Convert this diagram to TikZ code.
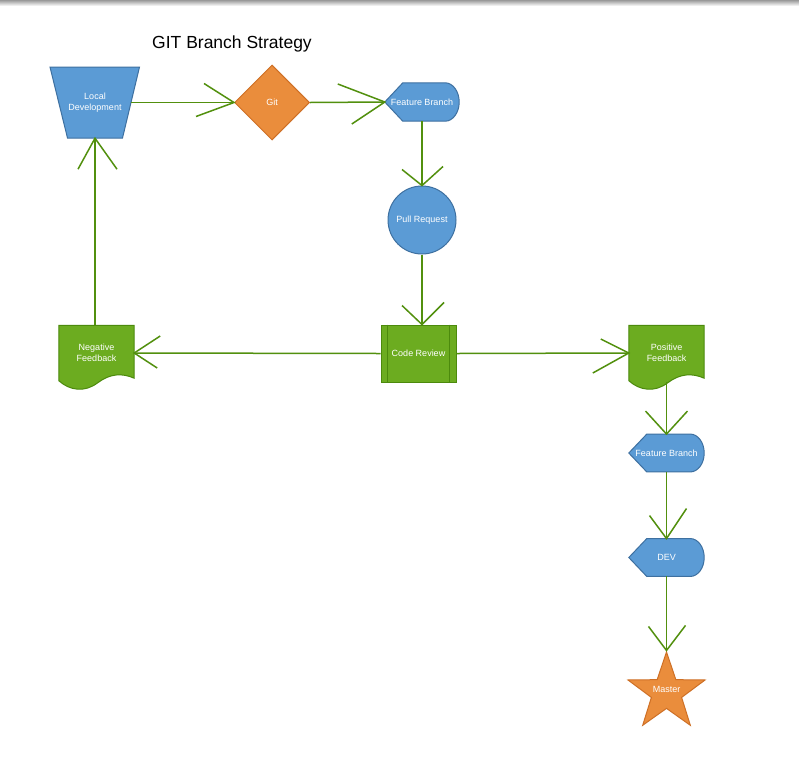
\documentclass[tikz,border=0pt]{standalone}
\usepackage{fontspec}
\setmainfont{Liberation Sans}
\usetikzlibrary{calc,shapes.geometric,backgrounds}

\definecolor{bluefill}{RGB}{91,155,213}
\definecolor{blueline}{RGB}{62,112,160}
\definecolor{orangefill}{RGB}{234,141,60}
\definecolor{orangeline}{RGB}{206,112,38}
\definecolor{greenfill}{RGB}{108,172,32}
\definecolor{greenline}{RGB}{76,138,12}
\definecolor{flow}{RGB}{82,144,14}

\tikzset{
  lbl/.style={text=white, font=\fontsize{9}{11}\selectfont, align=center, inner sep=0pt},
  frame/.style={lbl, rectangle, draw=none},
  blueshape/.style={fill=bluefill, draw=blueline, line width=1pt},
  orangeshape/.style={fill=orangefill, draw=orangeline, line width=1pt},
  greenshape/.style={fill=greenfill, draw=greenline, line width=1pt},
  conn/.style={draw=flow, line width=1.5pt},
}

% display shape: pointed left end, rounded right end
\newcommand\displayoutline[1]{%
  \path[blueshape] (#1.west) -- ($(#1.north west)+(18,0)$)
    -- ($(#1.north east)+(-14,0)$)
    .. controls ($(#1.north east)+(-6.3,0)$) and ($(#1.east)+(0,-10.5)$) .. (#1.east)
    .. controls ($(#1.east)+(0,10.5)$) and ($(#1.south east)+(-6.3,0)$) .. ($(#1.south east)+(-14,0)$)
    -- ($(#1.south west)+(18,0)$) -- cycle;}

% document shape: flat top, wavy bottom
\newcommand\documentoutline[1]{%
  \path[greenshape] (#1.south west) -- (#1.north west) -- (#1.north east)
    -- ($(#1.south east)+(0,-2.5)$)
    .. controls ($(#1.south west)+(63,-8)$) and ($(#1.south west)+(51,-7)$) .. ($(#1.south west)+(39,2)$)
    .. controls ($(#1.south west)+(26,12)$) and ($(#1.south west)+(11,10)$) .. (#1.south west) -- cycle;}

% open arrow head as two barbs meeting at a tip
\newcommand\barbs[3]{%
  \draw[conn] ($(#1)+(#2)$) -- (#1) -- ($(#1)+(#3)$);}

\begin{document}
\begin{tikzpicture}[x=1pt,y=-1pt]
\useasboundingbox (0,0) rectangle (799,782);

% title
\node[font=\fontsize{17.5}{20}\selectfont, inner sep=0pt] (title) at (232,44) {GIT Branch Strategy};

% nodes
\node[frame, minimum width=89pt, minimum height=71pt] (loc) at (95,102.5) {Local\\Development};
\node[lbl, orangeshape, diamond, minimum width=75pt, minimum height=75pt] (git) at (272,102.5) {Git};
\node[frame, minimum width=74pt, minimum height=38pt] (fb1) at (422,102) {Feature Branch};
\node[lbl, blueshape, circle, minimum size=68pt] (pr) at (422,220) {Pull Request};
\node[lbl, greenshape, rectangle, minimum width=75pt, minimum height=57pt] (cr) at (418.5,353.5) {Code Review};
\draw[greenline, line width=1.2pt] ($(cr.north west)+(7,0)$) -- ($(cr.south west)+(7,0)$)
  ($(cr.north east)+(-7,0)$) -- ($(cr.south east)+(-7,0)$);
\node[frame, minimum width=75pt, minimum height=55pt] (neg) at (96.5,353) {Negative\\Feedback};
\node[frame, minimum width=75pt, minimum height=55pt] (pos) at (666.5,353) {Positive\\Feedback};
\node[frame, minimum width=75pt, minimum height=37.5pt] (fb2) at (666.5,453) {Feature Branch};
\node[frame, minimum width=75pt, minimum height=37.5pt] (dev) at (666.5,557.5) {DEV};
\node[orangeshape, star, star points=5, star point ratio=2.55, minimum size=81pt, inner sep=0pt] (master) at (666.5,692.5) {};
\node[lbl] (masterlbl) at (666.5,689) {Master};

% outlines and page background
\begin{scope}[on background layer]
  \fill[white] (0,0) rectangle (799,782);
  \shade[top color=black!40, bottom color=white] (0,0) rectangle (799,6);
  \path[blueshape] (50,67) -- (139.5,67) -- (122.5,138) -- (67.5,138) -- cycle;
  \displayoutline{fb1}
  \displayoutline{fb2}
  \displayoutline{dev}
  \documentoutline{neg}
  \documentoutline{pos}
\end{scope}

% connectors
\draw[conn] ($(loc.east)+(-8.5,0)$) -- (git.west);
\barbs{git.west}{-30,-19}{-38,14}
\draw[conn] (git.east) -- (fb1.west);
\barbs{fb1.west}{-47,-18}{-33,22}
\draw[conn] (fb1.south) -- (pr.north);
\barbs{pr.north}{-20,-16}{21,-19}
\draw[conn] (pr.south) -- (pr.south |- cr.north);
\barbs{pr.south |- cr.north}{-20,-19}{22,-22}
\draw[conn] (cr.west) -- (neg.east);
\barbs{neg.east}{26,-17}{23,15}
\draw[conn] (neg.north -| loc.south) -- (loc.south);
\barbs{loc.south}{-17,31}{22,31}
\draw[conn] (cr.east) -- (pos.west);
\barbs{pos.west}{-28,-14}{-36,20}
\draw[conn] ($(pos.south)+(0,1)$) -- (fb2.north);
\barbs{fb2.north}{-21,-23}{21,-23}
\draw[conn] (fb2.south) -- (dev.north);
\barbs{dev.north}{-17,-23}{20,-30}
\draw[conn] (dev.south) -- (master.north);
\barbs{master.north}{-18,-24}{19,-25}
\end{tikzpicture}
\end{document}
